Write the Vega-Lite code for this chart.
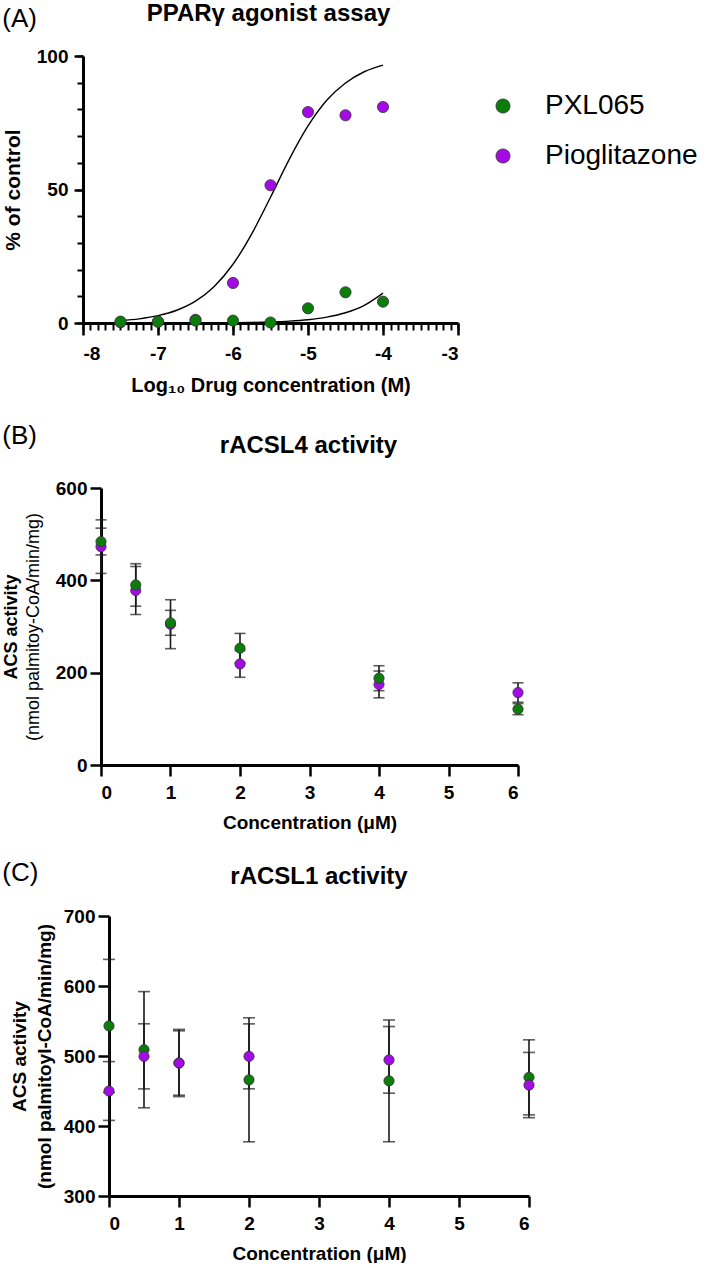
{
  "$schema": "https://vega.github.io/schema/vega-lite/v6.json",
  "background": "white",
  "padding": {"left": 2, "top": 2, "right": 0, "bottom": 0},
  "config": {
    "view": {"stroke": null},
    "font": "Liberation Sans",
    "axis": {
      "grid": false,
      "domainColor": "black",
      "domainWidth": 3,
      "tickColor": "black",
      "tickWidth": 2.5,
      "labelColor": "black",
      "labelFont": "Liberation Sans",
      "labelFontWeight": "bold",
      "labelFontSize": 19,
      "titleColor": "black",
      "titleFont": "Liberation Sans",
      "titleFontWeight": "bold"
    },
    "title": {"color": "black", "font": "Liberation Sans"}
  },
  "datasets": {
    "ppar": [
      {"drug": "Pioglitazone", "logc": -7.5, "pct": 0.3},
      {"drug": "Pioglitazone", "logc": -7, "pct": 0.5},
      {"drug": "Pioglitazone", "logc": -6.5, "pct": 1.2},
      {"drug": "Pioglitazone", "logc": -6, "pct": 15.0},
      {"drug": "Pioglitazone", "logc": -5.5, "pct": 51.6},
      {"drug": "Pioglitazone", "logc": -5, "pct": 79.0},
      {"drug": "Pioglitazone", "logc": -4.5, "pct": 77.8},
      {"drug": "Pioglitazone", "logc": -4, "pct": 80.9},
      {"drug": "PXL065", "logc": -7.5, "pct": 0.5},
      {"drug": "PXL065", "logc": -7, "pct": 0.5},
      {"drug": "PXL065", "logc": -6.5, "pct": 0.9},
      {"drug": "PXL065", "logc": -6, "pct": 0.9},
      {"drug": "PXL065", "logc": -5.5, "pct": 0.2},
      {"drug": "PXL065", "logc": -5, "pct": 5.5},
      {"drug": "PXL065", "logc": -4.5, "pct": 11.5},
      {"drug": "PXL065", "logc": -4, "pct": 8.0}
    ],
    "curves": [
      {"drug": "Pioglitazone", "logc": -7.5, "pct": 0.88},
      {"drug": "Pioglitazone", "logc": -7.25, "pct": 1.56},
      {"drug": "Pioglitazone", "logc": -7, "pct": 2.74},
      {"drug": "Pioglitazone", "logc": -6.75, "pct": 4.77},
      {"drug": "Pioglitazone", "logc": -6.5, "pct": 8.18},
      {"drug": "Pioglitazone", "logc": -6.25, "pct": 13.7},
      {"drug": "Pioglitazone", "logc": -6, "pct": 22.0},
      {"drug": "Pioglitazone", "logc": -5.75, "pct": 33.4},
      {"drug": "Pioglitazone", "logc": -5.5, "pct": 47.1},
      {"drug": "Pioglitazone", "logc": -5.25, "pct": 61.3},
      {"drug": "Pioglitazone", "logc": -5, "pct": 73.8},
      {"drug": "Pioglitazone", "logc": -4.75, "pct": 83.4},
      {"drug": "Pioglitazone", "logc": -4.5, "pct": 89.9},
      {"drug": "Pioglitazone", "logc": -4.25, "pct": 94.1},
      {"drug": "Pioglitazone", "logc": -4, "pct": 96.6},
      {"drug": "PXL065", "logc": -7.5, "pct": 0.0},
      {"drug": "PXL065", "logc": -7, "pct": 0.01},
      {"drug": "PXL065", "logc": -6.5, "pct": 0.04},
      {"drug": "PXL065", "logc": -6, "pct": 0.13},
      {"drug": "PXL065", "logc": -5.75, "pct": 0.22},
      {"drug": "PXL065", "logc": -5.5, "pct": 0.4},
      {"drug": "PXL065", "logc": -5.25, "pct": 0.7},
      {"drug": "PXL065", "logc": -5, "pct": 1.24},
      {"drug": "PXL065", "logc": -4.75, "pct": 2.19},
      {"drug": "PXL065", "logc": -4.5, "pct": 3.83},
      {"drug": "PXL065", "logc": -4.25, "pct": 6.61},
      {"drug": "PXL065", "logc": -4, "pct": 11.2}
    ],
    "acsl4": [
      {"drug": "Pioglitazone", "conc": 0, "mean": 473, "sd": 58},
      {"drug": "Pioglitazone", "conc": 0.5, "mean": 378, "sd": 52},
      {"drug": "Pioglitazone", "conc": 1, "mean": 305, "sd": 53},
      {"drug": "Pioglitazone", "conc": 2, "mean": 219, "sd": 29},
      {"drug": "Pioglitazone", "conc": 4, "mean": 174.5, "sd": 29},
      {"drug": "Pioglitazone", "conc": 6, "mean": 157, "sd": 21},
      {"drug": "PXL065", "conc": 0, "mean": 484, "sd": 29},
      {"drug": "PXL065", "conc": 0.5, "mean": 390, "sd": 46},
      {"drug": "PXL065", "conc": 1, "mean": 308, "sd": 27},
      {"drug": "PXL065", "conc": 2, "mean": 253, "sd": 32},
      {"drug": "PXL065", "conc": 4, "mean": 188, "sd": 27},
      {"drug": "PXL065", "conc": 6, "mean": 121, "sd": 12}
    ],
    "acsl1": [
      {"drug": "PXL065", "conc": 0, "mean": 543, "sd": 95},
      {"drug": "PXL065", "conc": 0.5, "mean": 509, "sd": 83},
      {"drug": "PXL065", "conc": 1, "mean": 490, "sd": 48},
      {"drug": "PXL065", "conc": 2, "mean": 466, "sd": 88.6},
      {"drug": "PXL065", "conc": 4, "mean": 464.5, "sd": 87},
      {"drug": "PXL065", "conc": 6, "mean": 469.5, "sd": 53.6},
      {"drug": "Pioglitazone", "conc": 0, "mean": 450, "sd": 42},
      {"drug": "Pioglitazone", "conc": 0.5, "mean": 499.5, "sd": 46.5},
      {"drug": "Pioglitazone", "conc": 1, "mean": 490, "sd": 46},
      {"drug": "Pioglitazone", "conc": 2, "mean": 499.5, "sd": 46.4},
      {"drug": "Pioglitazone", "conc": 4, "mean": 494.5, "sd": 47.6},
      {"drug": "Pioglitazone", "conc": 6, "mean": 458.5, "sd": 46.6}
    ]
  },
  "columns": 1,
  "spacing": 28,
  "align": "none",
  "resolve": {"scale": {"color": "independent"}, "legend": {"color": "independent"}},
  "concat": [
    {
      "title": {"text": "(A)", "anchor": "start", "frame": "bounds", "fontSize": 26, "fontWeight": "normal", "offset": -30},
      "resolve": {"scale": {"color": "independent"}, "legend": {"color": "independent"}},
      "vconcat": [
        {
          "width": 349,
          "height": 267,
          "title": {"text": "PPARγ agonist assay", "fontSize": 24, "fontWeight": "bold", "offset": 21, "dx": -15},
          "layer": [
            {
              "data": {"name": "curves"},
              "mark": {"type": "line", "color": "black", "strokeWidth": 1.4, "interpolate": "monotone"},
              "encoding": {
                "x": {"field": "logc", "type": "quantitative", "scale": {"domain": [-8, -3], "nice": false, "range": [-26, 349]},
                  "axis": {"orient": "bottom", "values": [-8,-7.9,-7.8,-7.7,-7.6,-7.5,-7.4,-7.3,-7.2,-7.1,-7,-6.9,-6.8,-6.7,-6.6,-6.5,-6.4,-6.3,-6.2,-6.1,-6,-5.9,-5.8,-5.7,-5.6,-5.5,-5.4,-5.3,-5.2,-5.1,-5,-4.9,-4.8,-4.7,-4.6,-4.5,-4.4,-4.3,-4.2,-4.1,-4,-3.9,-3.8,-3.7,-3.6,-3.5,-3.4,-3.3,-3.2,-3.1,-3], "labels": false, "domain": false, "tickSize": 7, "tickWidth": 2, "title": null}},
                "y": {"field": "pct", "type": "quantitative", "scale": {"domain": [0, 100], "nice": false},
                  "axis": {"orient": "left", "offset": 26, "values": [0,10,20,30,40,50,60,70,80,90,100], "labels": false, "domain": false, "tickSize": 6, "tickWidth": 2, "title": null}},
                "detail": {"field": "drug", "type": "nominal"}
              }
            },
            {
              "data": {"name": "ppar"},
              "mark": {"type": "circle", "size": 125, "opacity": 1, "stroke": "#333333", "strokeWidth": 0.8},
              "encoding": {
                "x": {"field": "logc", "type": "quantitative", "scale": {"domain": [-8, -3], "nice": false, "range": [-26, 349]},
                  "axis": {"orient": "bottom", "values": [-8, -7, -6, -5, -4, -3], "labelExpr": "toString(datum.value)", "tickSize": 12, "labelPadding": 9, "title": "Log₁₀ Drug concentration (M)", "titleFontSize": 20, "titlePadding": 12}},
                "y": {"field": "pct", "type": "quantitative", "scale": {"domain": [0, 100], "nice": false},
                  "axis": {"orient": "left", "offset": 26, "values": [0, 50, 100], "tickSize": 9, "labelPadding": 6, "title": "% of control", "titleFontSize": 21, "titlePadding": 13}},
                "color": {"field": "drug", "type": "nominal",
                  "scale": {"domain": ["PXL065", "Pioglitazone"], "range": ["#0B7D0B", "#A30AE6"]},
                  "legend": {"title": null, "orient": "right", "offset": -5, "padding": 36, "symbolType": "circle", "symbolSize": 200, "symbolStrokeColor": "#333333", "symbolStrokeWidth": 0.8, "labelFontSize": 28, "labelFont": "Liberation Sans", "labelColor": "black", "labelFontWeight": "normal", "labelOffset": 28, "rowPadding": 22}}
              }
            }
          ],
          "resolve": {"scale": {"x": "independent", "y": "independent"}}
        }
      ]
    },
    {
      "title": {"text": "(B)", "anchor": "start", "frame": "bounds", "fontSize": 26, "fontWeight": "normal", "offset": -15},
      "vconcat": [
        {
          "width": 409,
          "height": 277,
          "title": {"text": "rACSL4 activity", "fontSize": 24, "fontWeight": "bold", "offset": 21, "dx": -5},
          "layer": [
            {
              "data": {"name": "acsl4"},
              "mark": {"type": "errorbar", "ticks": true, "size": 11, "thickness": 1.6, "color": "#1a1a1a"},
              "encoding": {
                "x": {"field": "conc", "type": "quantitative", "scale": {"domain": [0, 6], "nice": false, "range": [-8, 409]}},
                "y": {"field": "mean", "type": "quantitative", "scale": {"domain": [0, 600], "nice": false},
                  "axis": {"orient": "left", "offset": 8, "labels": false, "ticks": false, "domain": false, "title": "(nmol palmitoy-CoA/min/mg)", "titleFontWeight": "normal", "titleFontSize": 18, "titlePadding": 59}},
                "yError": {"field": "sd"}
              }
            },
            {
              "data": {"name": "acsl4"},
              "mark": {"type": "circle", "size": 105, "opacity": 1, "stroke": "#333333", "strokeWidth": 0.8},
              "encoding": {
                "x": {"field": "conc", "type": "quantitative", "scale": {"domain": [0, 6], "nice": false, "range": [-8, 409]},
                  "axis": {"values": [0, 1, 2, 3, 4, 5, 6], "format": "d", "tickSize": 11, "labelPadding": 7, "title": "Concentration (μM)", "titleFontSize": 19, "titlePadding": 11}},
                "y": {"field": "mean", "type": "quantitative", "scale": {"domain": [0, 600], "nice": false},
                  "axis": {"orient": "left", "offset": 8, "values": [0, 200, 400, 600], "format": "d", "tickSize": 11, "labelPadding": 3, "title": "ACS activity", "titleFontSize": 18, "titlePadding": 35}},
                "color": {"field": "drug", "type": "nominal",
                  "scale": {"domain": ["PXL065", "Pioglitazone"], "range": ["#0B7D0B", "#A30AE6"]}, "legend": null}
              }
            }
          ],
          "resolve": {"scale": {"y": "independent"}}
        }
      ]
    },
    {
      "title": {"text": "(C)", "anchor": "start", "frame": "bounds", "fontSize": 26, "fontWeight": "normal", "offset": -21, "dx": -8},
      "vconcat": [
        {
          "width": 420,
          "height": 280,
          "title": {"text": "rACSL1 activity", "fontSize": 24, "fontWeight": "bold", "offset": 18},
          "layer": [
            {
              "data": {"name": "acsl1"},
              "mark": {"type": "errorbar", "ticks": true, "size": 12, "thickness": 1.6, "color": "#1a1a1a"},
              "encoding": {
                "x": {"field": "conc", "type": "quantitative", "scale": {"domain": [0, 6], "nice": false}},
                "y": {"field": "mean", "type": "quantitative", "scale": {"domain": [300, 700], "nice": false, "zero": false},
                  "axis": {"orient": "left", "labels": false, "ticks": false, "domain": false, "title": "(nmol palmitoyl-CoA/min/mg)", "titleFontSize": 19, "titlePadding": 55}},
                "yError": {"field": "sd"}
              }
            },
            {
              "data": {"name": "acsl1"},
              "mark": {"type": "circle", "size": 105, "opacity": 1, "stroke": "#333333", "strokeWidth": 0.8},
              "encoding": {
                "x": {"field": "conc", "type": "quantitative", "scale": {"domain": [0, 6], "nice": false},
                  "axis": {"values": [0, 1, 2, 3, 4, 5, 6], "format": "d", "tickSize": 11, "labelPadding": 7, "title": "Concentration (μM)", "titleFontSize": 19, "titlePadding": 11}},
                "y": {"field": "mean", "type": "quantitative", "scale": {"domain": [300, 700], "nice": false, "zero": false},
                  "axis": {"orient": "left", "values": [300, 400, 500, 600, 700], "format": "d", "tickSize": 11, "labelPadding": 3, "title": "ACS activity", "titleFontSize": 19, "titlePadding": 34}},
                "color": {"field": "drug", "type": "nominal",
                  "scale": {"domain": ["PXL065", "Pioglitazone"], "range": ["#0B7D0B", "#A30AE6"]}, "legend": null}
              }
            }
          ],
          "resolve": {"scale": {"y": "independent"}}
        }
      ]
    }
  ]
}
